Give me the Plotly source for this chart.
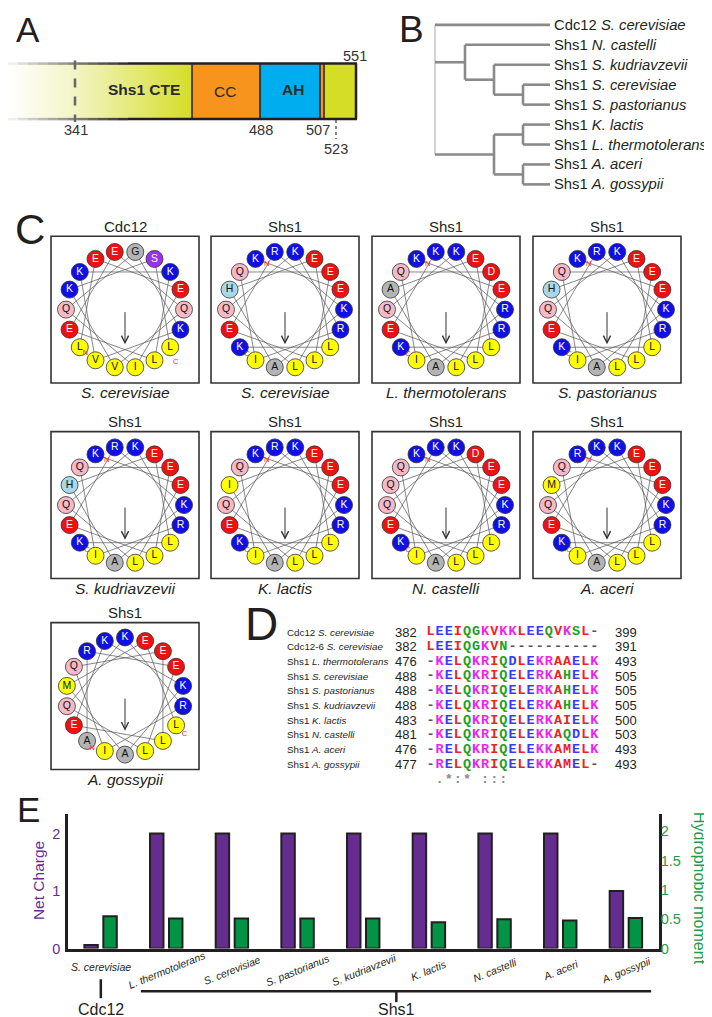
import math
import plotly.graph_objects as go

W, H = 712, 1017
SANS = "Liberation Sans, Arial, sans-serif"
MONO = "Liberation Mono, Courier New, monospace"
INK = "#231f20"
PURPLE = "#662d91"
GREEN = "#009444"
GREEN_TXT = "#1f9d4a"

# ---------------- Panel A : domain map ----------------
a_domain_labels = ["<b>Shs1 CTE</b>", "CC", "<b>AH</b>"]
a_residue_numbers = ["341", "488", "507", "523", "551"]

# ---------------- Panel B : tree ----------------
tree_genes = ["Cdc12", "Shs1", "Shs1", "Shs1", "Shs1", "Shs1", "Shs1", "Shs1", "Shs1"]
tree_species = ["S. cerevisiae", "N. castelli", "S. kudriavzevii", "S. cerevisiae",
                "S. pastorianus", "K. lactis", "L. thermotolerans", "A. aceri", "A. gossypii"]

# ---------------- Panel C : helical wheels ----------------
wheel_genes = ["Cdc12", "Shs1", "Shs1", "Shs1", "Shs1", "Shs1", "Shs1", "Shs1", "Shs1"]
wheel_species = ["S. cerevisiae", "S. cerevisiae", "L. thermotolerans", "S. pastorianus",
                 "S. kudriavzevii", "K. lactis", "N. castelli", "A. aceri", "A. gossypii"]
wheel_seqs = ["LEEIQGKVKKLEEQVKSL", "KELQKRIQELERKAHELK", "KELQKRIQDLEKRAAELK",
              "KELQKRIQELERKAHELK", "KELQKRIQELERKAHELK", "KELQKRIQELERKAIELK",
              "KELQKRIQELEKKAQDLK", "RELQKRIQELEKKAMELK", "ARELQKRIQELEKKAMEL"]

# ---------------- Panel D : alignment ----------------
aln_genes = ["Cdc12", "Cdc12-6", "Shs1", "Shs1", "Shs1", "Shs1", "Shs1", "Shs1", "Shs1", "Shs1"]
aln_species = ["S. cerevisiae", "S. cerevisiae", "L. thermotolerans", "S. cerevisiae",
               "S. pastorianus", "S. kudriavzevii", "K. lactis", "N. castelli", "A. aceri", "A. gossypii"]
aln_start = [382, 382, 476, 488, 488, 488, 483, 481, 476, 477]
aln_end = [399, 391, 493, 505, 505, 505, 500, 503, 493, 493]
aln_seqs = ["LEEIQGKVKKLEEQVKSL-", "LEEIQGKVN----------", "-KELQKRIQDLEKRAAELK",
            "-KELQKRIQELERKAHELK", "-KELQKRIQELERKAHELK", "-KELQKRIQELERKAHELK",
            "-KELQKRIQELERKAIELK", "-KELQKRIQELEKKAQDLK", "-RELQKRIQELEKKAMELK",
            "-RELQKRIQELEKKAMEL-"]
aln_conservation = " .*:* :::          "

# ---------------- Panel E : bar chart ----------------
e_species = ["S. cerevisiae", "L. thermotolerans", "S. cerevisiae", "S. pastorianus",
             "S. kudriavzevii", "K. lactis", "N. castelli", "A. aceri", "A. gossypii"]
e_groups = ["Cdc12", "Shs1", "Shs1", "Shs1", "Shs1", "Shs1", "Shs1", "Shs1", "Shs1"]
net_charge = [0.06, 2, 2, 2, 2, 2, 2, 2, 1]
hydrophobic_moment = [0.55, 0.51, 0.51, 0.51, 0.51, 0.45, 0.50, 0.48, 0.52]

# =================================================================
fig = go.Figure()
shapes = []
ann = []


def text(x, y, s, size, color=INK, xanchor="center", yanchor="middle", angle=0,
         xref="x", yref="y", family=SANS):
    ann.append(dict(x=x, y=y, xref=xref, yref=yref, text=s, showarrow=False,
                    xanchor=xanchor, yanchor=yanchor, textangle=angle,
                    font=dict(family=family, size=size, color=color)))


def line(x0, y0, x1, y1, color=INK, width=2.0, dash=None, xref="x", yref="y"):
    ln = dict(color=color, width=width)
    if dash:
        ln["dash"] = dash
    shapes.append(dict(type="line", x0=x0, y0=y0, x1=x1, y1=y1, xref=xref, yref=yref, line=ln))


def rect(x0, y0, x1, y1, fill=None, color=INK, width=0.0, layer="above"):
    shapes.append(dict(type="rect", x0=x0, y0=y0, x1=x1, y1=y1, xref="x", yref="y",
                       fillcolor=fill if fill else "rgba(0,0,0,0)", layer=layer,
                       line=dict(color=color, width=width)))


# ---------- panel letters ----------
for lab, x, y, s in [("A", 20, 22, 35), ("B", 403, 22, 37), ("C", 22, 223, 42),
                     ("D", 253, 621, 46), ("E", 20, 808, 35)]:
    text(x, y, lab, s)

# ---------- Panel A ----------
BT, BB = 56, 112
seg = {"grad": (0, 184), "cc": (184, 252), "ah": (252, 312), "link": (312, 316), "tail": (316, 348)}
YG = "#d5dd26"
fig.add_trace(go.Scatter(
    x=[seg["grad"][0], seg["grad"][1], seg["grad"][1], seg["grad"][0], seg["grad"][0]],
    y=[BT, BT, BB, BB, BT], mode="none", fill="toself",
    fillgradient=dict(type="horizontal",
                      colorscale=[[0, "#ffffff"], [0.35, "#f3f5c8"], [0.7, "#e3e874"], [1, YG]],
                      start=seg["grad"][0], stop=seg["grad"][1]),
    hoverinfo="skip", showlegend=False, xaxis="x", yaxis="y"))
rect(seg["cc"][0], BT, seg["cc"][1], BB, fill="#f7941d")
rect(seg["ah"][0], BT, seg["ah"][1], BB, fill="#00aeef")
rect(seg["link"][0], BT, seg["link"][1], BB, fill="#f7941d")
rect(seg["tail"][0], BT, seg["tail"][1], BB, fill=YG)
# fading outline
n_fade = 12
for i in range(n_fade):
    a = (i + 1) / n_fade
    x0, x1 = 10 * i, 10 * (i + 1)
    col = "rgba(35,31,32,%.2f)" % (a * 0.9)
    line(x0, BT, x1, BT, col, 2.5)
    line(x0, BB, x1, BB, col, 2.5)
line(120, BT, 349, BT, INK, 2.5)
line(120, BB, 349, BB, INK, 2.5)
line(348, BT, 348, BB, INK, 2.5)
for xb in [184, 252, 312, 316]:
    line(xb, BT, xb, BB, INK, 1.5)
line(67, BT - 3, 67, BB + 3, "#666666", 2.5, "dash")
line(328, BB + 1, 328, 132, "#444444", 1.3, "dot")
for s, (x, y) in zip(a_domain_labels, [(136, 82), (217, 84), (285, 82)]):
    text(x, y, s, 15.5, "#2a2a2a")
for s, (x, y) in zip(a_residue_numbers, [(68, 123), (253, 123), (310, 123), (328, 142), (347, 48)]):
    text(x, y, s, 14.5, "#333333")

# ---------- Panel B ----------
leaf_y0, leaf_dy, leaf_x = 17, 20.1, 542
leaf_y = [leaf_y0 + leaf_dy * i for i in range(len(tree_species))]
tree = {"x": 427, "kids": [0,
                           {"x": 457, "kids": [1, {"x": 486, "kids": [2, {"x": 515, "kids": [3, 4]}]}]},
                           {"x": 486, "kids": [{"x": 515, "kids": [5, 6]}, {"x": 515, "kids": [7, 8]}]}]}
tx, ty = [], []
root_v = []


def layout_node(node, is_root=False):
    if isinstance(node, int):
        return leaf_y[node]
    ys = [layout_node(k) for k in node["kids"]]
    for k, yk in zip(node["kids"], ys):
        xk = leaf_x if isinstance(k, int) else k["x"]
        tx.extend([node["x"], xk, None])
        ty.extend([yk, yk, None])
    if is_root:
        root_v.extend([node["x"], node["x"], min(ys), max(ys)])
    else:
        tx.extend([node["x"], node["x"], None])
        ty.extend([min(ys), max(ys), None])
    return (ys[0] + ys[-1]) / 2


layout_node(tree, True)
fig.add_trace(go.Scatter(x=[root_v[0], root_v[1]], y=[root_v[2], root_v[3]], mode="lines",
                         line=dict(color="#c4c4c4", width=1.5), hoverinfo="skip", showlegend=False))
fig.add_trace(go.Scatter(x=tx, y=ty, mode="lines", line=dict(color="#8a8a8a", width=2.6),
                         hoverinfo="skip", showlegend=False))
for g, sp, y in zip(tree_genes, tree_species, leaf_y):
    text(544, y, "%s <i>%s</i>" % (g, sp), 14.8, INK, xanchor="left")

# ---------- Panel C ----------
RES_FILL = {"K": "#1010e6", "R": "#1010e6", "E": "#ee1111", "D": "#ee1111",
            "Q": "#f7b9c6", "N": "#f7b9c6", "H": "#a9d8e6",
            "L": "#ffff00", "I": "#ffff00", "V": "#ffff00", "M": "#ffff00", "F": "#ffff00",
            "A": "#b4b4b4", "G": "#b4b4b4", "S": "#9b30e8", "T": "#9b30e8"}
RES_TXT = {"K": "white", "R": "white", "E": "white", "D": "white", "S": "white", "T": "white"}
COL_CX = [117, 277, 438, 599]
ROW_CY = [304, 501, 693.5]
BOX = 148
RW = 59
wheel_start = [230, 330, 330, 330, 330, 330, 330, 330, 220]
wheel_marks = [(-8, 0, 6, 14)] + [(8, -10, -10, 0)] * 7 + [(-8, 3, 3, 12)]


def polar(cx, cy, r, deg):
    t = math.radians(deg)
    return cx + r * math.sin(t), cy - r * math.cos(t)


mx, my, mcol, mtxt, mtc = [], [], [], [], []
nx, ny, ntxt = [], [], []
for w, seq in enumerate(wheel_seqs):
    cx, cy = COL_CX[w % 4], ROW_CY[w // 4]
    rect(cx - BOX / 2, cy - BOX / 2, cx + BOX / 2, cy + BOX / 2, None, "#333333", 1.6)
    text(cx, cy - BOX / 2 - 10, wheel_genes[w], 15)
    text(cx, cy + BOX / 2 + 10, "<i>%s</i>" % wheel_species[w], 15.5)
    pts = [polar(cx, cy, RW, wheel_start[w] + 100 * k) for k in range(len(seq))]
    fig.add_trace(go.Scatter(x=[p[0] for p in pts], y=[p[1] for p in pts], mode="lines",
                             line=dict(color="#555555", width=0.7), hoverinfo="skip", showlegend=False))
    for (px, py), aa in zip(pts, seq):
        mx.append(px); my.append(py)
        mcol.append(RES_FILL.get(aa, "#dddddd"))
        mtxt.append(aa)
        mtc.append(RES_TXT.get(aa, "#111111"))
    dn, rn, dc, rc = wheel_marks[w]
    a1 = wheel_start[w]
    aL = wheel_start[w] + 100 * (len(seq) - 1)
    p = polar(cx, cy, RW + rn, a1 + dn); nx.append(p[0]); ny.append(p[1]); ntxt.append("N")
    p = polar(cx, cy, RW + rc, aL + dc); nx.append(p[0]); ny.append(p[1]); ntxt.append("C")
    ann.append(dict(x=cx, y=cy + 35, ax=cx, ay=cy + 1, xref="x", yref="y", axref="x", ayref="y",
                    text="", showarrow=True, arrowhead=5, arrowsize=1.4, arrowwidth=1,
                    arrowcolor="#333333"))

fig.add_trace(go.Scatter(x=mx, y=my, mode="markers+text", text=mtxt, textposition="middle center",
                         marker=dict(size=17, color=mcol, line=dict(color="#333333", width=0.8)),
                         textfont=dict(family=SANS, size=10.5, color=mtc),
                         hoverinfo="skip", showlegend=False))
fig.add_trace(go.Scatter(x=nx, y=ny, mode="text", text=ntxt, textposition="middle center",
                         textfont=dict(family=SANS, size=7.5, color="#ff2222"),
                         hoverinfo="skip", showlegend=False))

# ---------- Panel D ----------
ALN_COL = {}
for c in "AVFPMILW":
    ALN_COL[c] = "#ee2222"
for c in "DE":
    ALN_COL[c] = "#3a3aff"
for c in "RK":
    ALN_COL[c] = "#ee22ee"
for c in "STYHCNGQ":
    ALN_COL[c] = "#22a022"
ALN_COL["-"] = "#555555"
row_y0, row_dy = 629, 14.8
seq_x0, pitch = 418, 9.1
sx, sy, st, sc = [], [], [], []
for r in range(len(aln_seqs)):
    y = row_y0 + row_dy * r
    text(277, y, "%s <i>%s</i>" % (aln_genes[r], aln_species[r]), 9.8, INK, xanchor="left")
    text(411, y, str(aln_start[r]), 13, INK, xanchor="right")
    text(605, y, str(aln_end[r]), 13, INK, xanchor="left")
    for c, ch in enumerate(aln_seqs[r]):
        sx.append(seq_x0 + pitch * c + pitch / 2)
        sy.append(y)
        st.append(ch)
        sc.append(ALN_COL.get(ch, "#555555"))
cy_cons = row_y0 + row_dy * len(aln_seqs) + 1
for c, ch in enumerate(aln_conservation):
    if ch != " ":
        sx.append(seq_x0 + pitch * c + pitch / 2)
        sy.append(cy_cons)
        st.append(ch)
        sc.append("#8a8a8a")
fig.add_trace(go.Scatter(x=sx, y=sy, mode="text", text=st, textposition="middle center",
                         textfont=dict(family=MONO, size=13.5, color=sc, weight="bold"),
                         hoverinfo="skip", showlegend=False))

# ---------- Panel E ----------
idx = list(range(len(e_species)))
fig.add_trace(go.Bar(x=idx, y=net_charge, width=0.205, offset=-0.251,
                     marker=dict(color=PURPLE, line=dict(color=INK, width=2)),
                     xaxis="x2", yaxis="y2", hoverinfo="skip", showlegend=False))
fig.add_trace(go.Bar(x=idx, y=hydrophobic_moment, width=0.205, offset=0.038,
                     marker=dict(color=GREEN, line=dict(color=INK, width=2)),
                     xaxis="x2", yaxis="y3", hoverinfo="skip", showlegend=False))
for i, sp in enumerate(e_species):
    if e_groups[i] == "Cdc12":
        text(i, 967, "<i>%s</i>" % sp, 10.5, INK, xref="x2")
    else:
        text(i, 970, "<i>%s</i>" % sp, 10.5, INK, angle=-22, xref="x2")
text(30, 880, "Net Charge", 15.5, PURPLE, angle=-90)
text(692, 887, "Hydrophobic moment", 16, GREEN_TXT, angle=90)
# group brackets
cdc_idx = [i for i, g in enumerate(e_groups) if g == "Cdc12"]
shs_idx = [i for i, g in enumerate(e_groups) if g == "Shs1"]
cdc_mid = sum(cdc_idx) / len(cdc_idx)
shs_mid = sum(shs_idx) / len(shs_idx)
line(cdc_mid, 979, cdc_mid, 998, INK, 2.5, xref="x2")
line(min(shs_idx) - 0.39, 991, max(shs_idx) + 0.38, 991, INK, 2.5, xref="x2")
line(shs_mid, 991, shs_mid, 1002, INK, 2.5, xref="x2")
text(cdc_mid, 1009, "Cdc12", 16, INK, xref="x2")
text(shs_mid, 1009, "Shs1", 16, INK, xref="x2")

E_BOT, E_TOP = 948, 812
fig.update_layout(
    width=W, height=H, margin=dict(l=0, r=0, t=0, b=0),
    paper_bgcolor="white", plot_bgcolor="rgba(0,0,0,0)", showlegend=False,
    barmode="overlay",
    font=dict(family=SANS, color=INK),
    xaxis=dict(domain=[0, 1], range=[0, W], visible=False, fixedrange=True),
    yaxis=dict(domain=[0, 1], range=[H, 0], visible=False, fixedrange=True),
    xaxis2=dict(domain=[60 / W, 651 / W], range=[-0.5, 8.5], anchor="y2", showline=True,
                linewidth=2.5, linecolor=INK, showticklabels=False, ticks="", showgrid=False,
                zeroline=False),
    yaxis2=dict(domain=[1 - E_BOT / H, 1 - E_TOP / H], anchor="x2", range=[0, 2.345],
                showline=True, linewidth=2.5, linecolor=INK, tickvals=[0, 1, 2],
                tickfont=dict(color=PURPLE, size=14.5, family=SANS), showgrid=False,
                zeroline=False, ticks="", ticklen=0, ticklabelstandoff=2),
    yaxis3=dict(overlaying="y2", side="right", anchor="x2", range=[0, 2.3], showline=True,
                linewidth=2.5, linecolor=INK, tickvals=[0, 0.5, 1, 1.5, 2],
                ticktext=["0", "0.5", "1", "1.5", "2"],
                tickfont=dict(color=GREEN_TXT, size=14.5, family=SANS), showgrid=False,
                zeroline=False, ticks="", ticklen=0, ticklabelstandoff=-4),
    shapes=shapes, annotations=ann,
)
fig.write_html("out.html")
